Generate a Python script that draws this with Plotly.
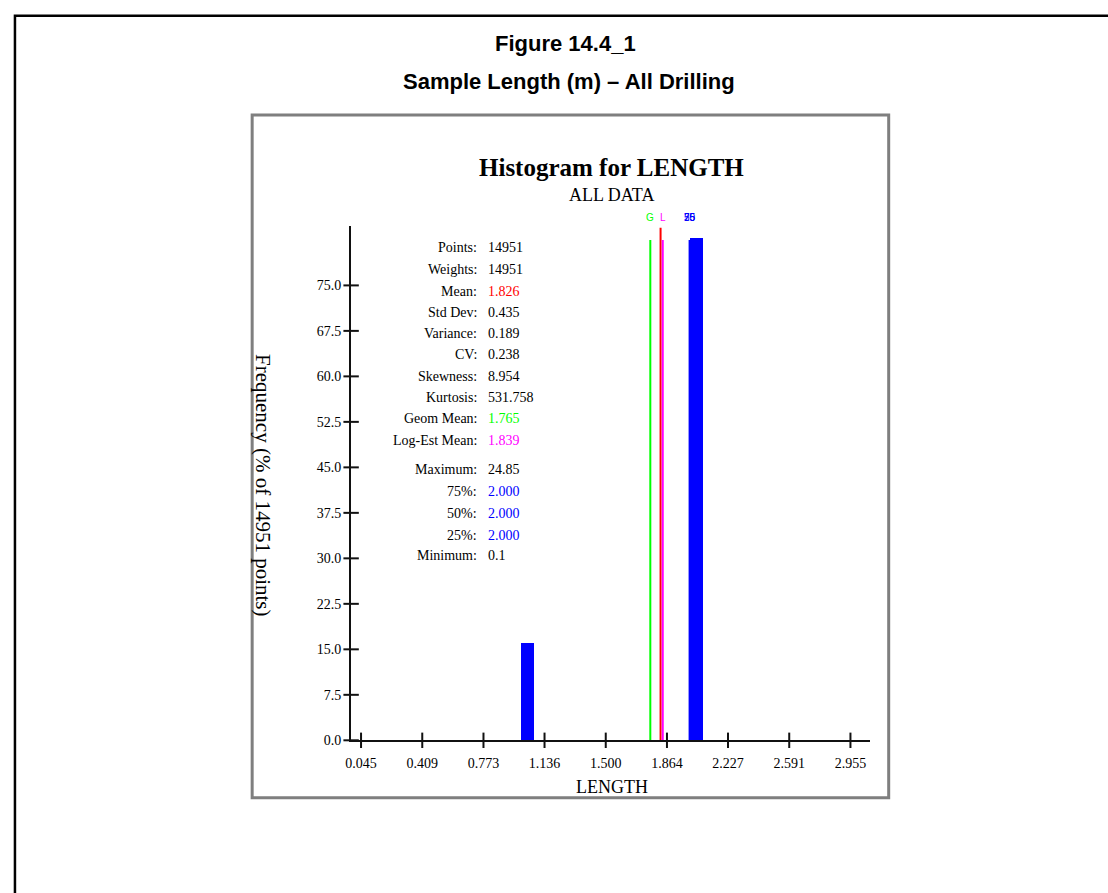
import plotly.graph_objects as go

W, H = 1108, 893

# ---------------- data ----------------
bin_left = [0.995, 2.000]
bin_width = 0.078
bin_freq = [16.0, 82.8]

x_tickvals = [0.045, 0.409, 0.773, 1.136, 1.500, 1.864, 2.227, 2.591, 2.955]
x_ticktext = ["0.045", "0.409", "0.773", "1.136", "1.500", "1.864", "2.227", "2.591", "2.955"]
y_tickvals = [0.0, 7.5, 15.0, 22.5, 30.0, 37.5, 45.0, 52.5, 60.0, 67.5, 75.0]
y_ticktext = ["0.0", "7.5", "15.0", "22.5", "30.0", "37.5", "45.0", "52.5", "60.0", "67.5", "75.0"]

stat_labels = ["Points:", "Weights:", "Mean:", "Std Dev:", "Variance:", "CV:", "Skewness:",
               "Kurtosis:", "Geom Mean:", "Log-Est Mean:", "Maximum:", "75%:", "50%:", "25%:", "Minimum:"]
stat_values = ["14951", "14951", "1.826", "0.435", "0.189", "0.238", "8.954",
               "531.758", "1.765", "1.839", "24.85", "2.000", "2.000", "2.000", "0.1"]
stat_colors = ["#000000", "#000000", "#FF0000", "#000000", "#000000", "#000000", "#000000",
               "#000000", "#00FF00", "#FF00FF", "#000000", "#0000FF", "#0000FF", "#0000FF", "#000000"]
stat_rows_px = [250, 272, 294, 315, 337, 358, 380, 401, 422, 444, 474, 496, 518, 540, 561]

# reference lines: geometric mean, mean, log-est mean, quartiles
ref_names = ["G", "M", "L", "25", "50", "75"]
ref_values = [1.765, 1.826, 1.839, 2.000, 2.000, 2.000]
ref_tops = [82.5, 84.5, 82.5, 82.5, 82.5, 82.5]
ref_colors = ["#00FF00", "#FF0000", "#FF00FF", "#0000FF", "#0000FF", "#0000FF"]
ref_label_show = [True, False, True, True, True, True]

x_range = [-0.014, 3.073]
y_range = [0.0, 84.8]

SERIF = "Liberation Serif, Times New Roman, serif"
SANS = "Liberation Sans, Arial, sans-serif"


def px(x):
    return x / W


def py(y):
    return 1 - y / H


fig = go.Figure()

# histogram bars
fig.add_trace(go.Bar(
    x=bin_left, y=bin_freq, width=[bin_width] * len(bin_left), offset=0,
    marker=dict(color="#0000FF", line=dict(width=0)), showlegend=False,
    hoverinfo="skip"))

# reference vertical lines
for v, top, c in zip(ref_values, ref_tops, ref_colors):
    fig.add_trace(go.Scatter(x=[v, v], y=[0, top], mode="lines",
                             line=dict(color=c, width=2), showlegend=False,
                             hoverinfo="skip"))

# crossing tick marks
fig.add_trace(go.Scatter(
    x=x_tickvals, y=[0] * len(x_tickvals), mode="markers",
    marker=dict(symbol="line-ns", size=11, line=dict(color="#111111", width=2)),
    cliponaxis=False, showlegend=False, hoverinfo="skip"))
fig.add_trace(go.Scatter(
    x=[x_range[0]] * len(y_tickvals), y=y_tickvals, mode="markers",
    marker=dict(symbol="line-ew", size=11, line=dict(color="#111111", width=2)),
    cliponaxis=False, showlegend=False, hoverinfo="skip"))

annotations = []
# headers
annotations.append(dict(text="<b>Figure 14.4_1</b>", x=px(563), y=py(44), xref="paper", yref="paper",
                        showarrow=False, font=dict(family=SANS, size=22, color="#000000"),
                        xanchor="center", yanchor="middle"))
annotations.append(dict(text="<b>Sample Length (m) – All Drilling</b>", x=px(566), y=py(82),
                        xref="paper", yref="paper", showarrow=False,
                        font=dict(family=SANS, size=22, color="#000000"),
                        xanchor="center", yanchor="middle"))
annotations.append(dict(text="<b>Histogram for LENGTH</b>", x=px(609), y=py(169), xref="paper",
                        yref="paper", showarrow=False,
                        font=dict(family=SERIF, size=25, color="#000000"),
                        xanchor="center", yanchor="middle"))
annotations.append(dict(text="ALL DATA", x=px(609), y=py(197), xref="paper", yref="paper",
                        showarrow=False, font=dict(family=SERIF, size=18, color="#000000"),
                        xanchor="center", yanchor="middle"))
annotations.append(dict(text="LENGTH", x=px(609), y=py(794), xref="paper", yref="paper",
                        showarrow=False, font=dict(family=SERIF, size=18, color="#000000"),
                        xanchor="center", yanchor="middle"))
annotations.append(dict(text="Frequency (% of 14951 points)", x=px(259), y=py(489), xref="paper",
                        yref="paper", showarrow=False, textangle=90,
                        font=dict(family=SERIF, size=21, color="#000000"),
                        xanchor="center", yanchor="middle"))

# statistics block
for lab, val, col, ry in zip(stat_labels, stat_values, stat_colors, stat_rows_px):
    annotations.append(dict(text=lab, x=px(476), y=py(ry), xref="paper", yref="paper",
                            showarrow=False, font=dict(family=SERIF, size=14, color="#000000"),
                            xanchor="right", yanchor="middle"))
    annotations.append(dict(text=val, x=px(483), y=py(ry), xref="paper", yref="paper",
                            showarrow=False, font=dict(family=SERIF, size=14, color=col),
                            xanchor="left", yanchor="middle"))

# reference line labels
for name, v, c, show in zip(ref_names, ref_values, ref_colors, ref_label_show):
    if show:
        annotations.append(dict(text=name, x=v, y=py(219), xref="x", yref="paper",
                                showarrow=False, font=dict(family=SANS, size=10, color=c),
                                xanchor="center", yanchor="middle"))

shapes = [
    dict(type="rect", xref="paper", yref="paper", x0=px(9), y0=py(16), x1=px(1125), y1=py(910),
         line=dict(color="#000000", width=2.5), fillcolor="rgba(0,0,0,0)", layer="below"),
    dict(type="rect", xref="paper", yref="paper", x0=px(247.5), y0=py(116), x1=px(887.5), y1=py(805),
         line=dict(color="#7f7f7f", width=3), fillcolor="rgba(0,0,0,0)", layer="below"),
]

fig.update_layout(
    width=W, height=H,
    margin=dict(l=0, r=0, t=0, b=0),
    paper_bgcolor="#FFFFFF", plot_bgcolor="#FFFFFF",
    showlegend=False,
    bargap=0,
    annotations=annotations,
    shapes=shapes,
    xaxis=dict(domain=[px(347), px(869)], range=x_range, showgrid=False, zeroline=False,
               showline=True, linecolor="#111111", linewidth=2,
               tickvals=x_tickvals, ticktext=x_ticktext, ticks="",
               ticklabelstandoff=9,
               tickfont=dict(family=SERIF, size=14, color="#000000"), fixedrange=True),
    yaxis=dict(domain=[py(747), py(228)], range=y_range, showgrid=False, zeroline=False,
               showline=True, linecolor="#111111", linewidth=2,
               tickvals=y_tickvals, ticktext=y_ticktext, ticks="",
               ticklabelstandoff=5,
               tickfont=dict(family=SERIF, size=14, color="#000000"), fixedrange=True),
)

post = ("document.body.style.margin='0';document.body.style.padding='0';"
        "document.documentElement.style.overflow='hidden';")
fig.write_html("out.html", config={"displayModeBar": False}, post_script=post)
